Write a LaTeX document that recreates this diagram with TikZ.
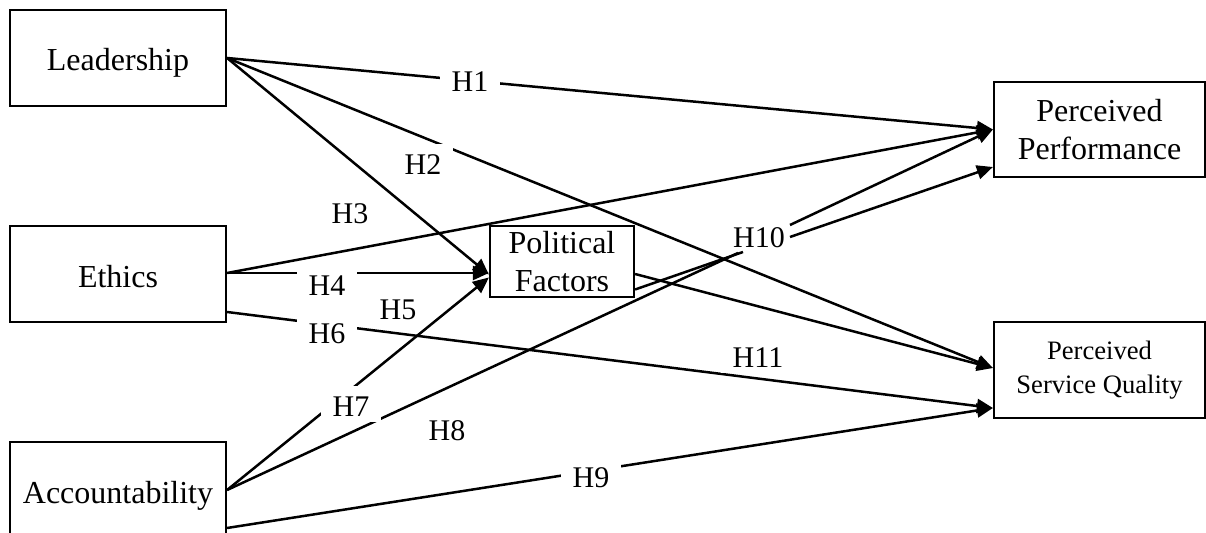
\documentclass[tikz,border=0pt]{standalone}
\usepackage{fontspec}
\setmainfont{Liberation Serif}
\usetikzlibrary{arrows.meta}
\begin{document}
\begin{tikzpicture}[x=0.5pt,y=-0.5pt,
  box/.style={draw,line width=1.1pt,inner sep=0pt,align=center,font=\fontsize{16}{19}\selectfont},
  hlab/.style={fill=white,inner xsep=6pt,inner ysep=2.5pt,text height=13pt,text depth=0pt,anchor=base,font=\fontsize{15}{18}\selectfont},
  conn/.style={line width=1.25pt},
  arr/.style={line width=1.25pt,-{Triangle[length=8pt,width=7pt]}}]
\useasboundingbox (0,0) rectangle (1206,533);

\node[box,minimum width=108pt,minimum height=48pt] (lead) at (118,58) {\raisebox{-2.5pt}[\height][\depth]{Leadership}};
\node[box,minimum width=108pt,minimum height=48pt] (eth) at (118,274) {\raisebox{-1.5pt}[\height][\depth]{Ethics}};
\node[box,minimum width=108pt,minimum height=48pt] (acc) at (118,490) {\raisebox{-3pt}[\height][\depth]{Accountability}};
\node[box,minimum width=72pt,minimum height=35.5pt] (pf) at (562,261.5) {Political\\Factors};
\node[box,minimum width=105.5pt,minimum height=47.5pt] (pp) at (1099.5,129.5) {Perceived\\Performance};
\node[box,minimum width=105.5pt,minimum height=48pt,font=\fontsize{13.3}{17}\selectfont] (psq) at (1099.5,370) {Perceived\\Service Quality};

\coordinate (a1) at (743,252);
\coordinate (a2) at (738,253);
\coordinate (b1) at (790,225);
\coordinate (b2) at (790,237);

\draw[arr] (lead.east) -- (pp.west);
\draw[arr] (lead.east) -- ([yshift=1pt]psq.west);
\draw[arr] (lead.east) -- ([yshift=-6.5pt]pf.west);
\draw[arr] ([yshift=0.5pt]eth.east) -- (pp.west);
\draw[arr] ([yshift=0.5pt]eth.east) -- ([yshift=-5.75pt]pf.west);
\draw[arr] ([yshift=-19pt]eth.east) -- ([yshift=-19pt]psq.west);
\draw[arr] (acc.east) -- ([yshift=-8pt]pf.west);
\draw[conn] (acc.east) -- (a2);
\draw[arr] ([yshift=-19pt]acc.east) -- ([yshift=-19pt]psq.west);
\draw[arr] ([yshift=-6.25pt]pf.east) -- ([yshift=1pt]psq.west);
\draw[conn] ([yshift=-14pt]pf.east) -- (a1);
\draw[arr] (b1) -- (pp.west);
\draw[arr] (b2) -- ([yshift=-18.75pt]pp.west);

\node[hlab] (h1) at (470,92) {H1};
\node[hlab] (h2) at (423,175) {H2};
\node[hlab] (h3) at (350,224) {H3};
\node[hlab] (h4) at (327,296) {H4};
\node[hlab] (h5) at (398,320) {H5};
\node[hlab] (h6) at (327,344) {H6};
\node[hlab] (h7) at (351,417) {H7};
\node[hlab] (h8) at (447,441) {H8};
\node[hlab] (h9) at (591,488) {H9};
\node[hlab,fill=none] (h10) at (759,248) {H10};
\node[hlab] (h11) at (758,368) {H11};
\end{tikzpicture}
\end{document}
